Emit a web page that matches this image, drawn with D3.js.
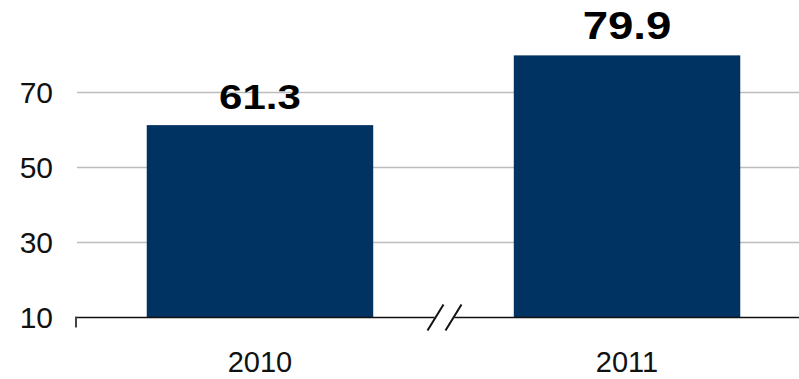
<!DOCTYPE html>
<html>
<head>
<meta charset="utf-8">
<script src="https://cdn.jsdelivr.net/npm/d3@7"></script>
<style>
  html, body { margin: 0; padding: 0; background: #fff; }
  svg { display: block; font-family: "Liberation Sans", Arial, sans-serif; }
</style>
</head>
<body>
<svg id="chart" width="799" height="379"></svg>
<script>
// Chart data
const years = ["2010", "2011"];
const values = [61.3, 79.9];
const yTicks = [10, 30, 50, 70];

// Label styling (font size per value label)
const valueFontSizes = [35, 38];

const W = 799, H = 379;
const svg = d3.select("#chart");

const x = d3.scaleBand()
  .domain(years)
  .range([77, 810])
  .paddingInner(0.383)
  .paddingOuter(0.19);

const y = d3.scaleLinear()
  .domain([10, 70])
  .range([317.5, 92.5]);

// Horizontal gridlines (above the baseline)
svg.append("g")
  .selectAll("line")
  .data(yTicks.filter(t => t > 10))
  .join("line")
  .attr("x1", 77).attr("x2", W)
  .attr("y1", d => y(d)).attr("y2", d => y(d))
  .attr("stroke", "#bdbdbd")
  .attr("stroke-width", 1.5);

// Y tick labels
svg.append("g")
  .selectAll("text")
  .data(yTicks)
  .join("text")
  .attr("x", 53)
  .attr("y", d => y(d))
  .attr("dy", "0.35em")
  .attr("text-anchor", "end")
  .attr("font-size", 30)
  .attr("fill", "#111")
  .text(d => d);

// Bars
svg.append("g")
  .selectAll("rect")
  .data(values)
  .join("rect")
  .attr("x", (d, i) => x(years[i]))
  .attr("width", x.bandwidth())
  .attr("y", d => y(d))
  .attr("height", d => y(10) - y(d))
  .attr("fill", "#003262");

// Baseline with an axis-break mark between the bars
const base = y(10);
const bx = (x(years[0]) + x.bandwidth() + x(years[1])) / 2 - 2;
const axis = svg.append("g").attr("stroke", "#111").attr("fill", "none");
axis.append("line").attr("x1", 77).attr("x2", bx - 7).attr("y1", base).attr("y2", base).attr("stroke-width", 1.3);
axis.append("line").attr("x1", bx + 13).attr("x2", W).attr("y1", base).attr("y2", base).attr("stroke-width", 1.3);
axis.append("line").attr("x1", 76).attr("x2", 76).attr("y1", base - 1).attr("y2", base + 10)
  .attr("stroke", "#444").attr("stroke-width", 2);
[bx - 6, bx + 12].forEach(cx => {
  axis.append("line")
    .attr("x1", cx - 8).attr("y1", base + 13)
    .attr("x2", cx + 8).attr("y2", base - 13)
    .attr("stroke-width", 2);
});

// X category labels
svg.append("g")
  .selectAll("text")
  .data(years)
  .join("text")
  .attr("x", d => x(d) + x.bandwidth() / 2)
  .attr("y", 372)
  .attr("text-anchor", "middle")
  .attr("font-size", 29)
  .attr("fill", "#111")
  .text(d => d);

// Value labels above bars
svg.append("g")
  .selectAll("text")
  .data(values)
  .join("text")
  .attr("transform", (d, i) => `translate(${x(years[i]) + x.bandwidth() / 2},${y(d) - 16}) scale(1.2,1)`)
  .attr("text-anchor", "middle")
  .attr("font-size", (d, i) => valueFontSizes[i])
  .attr("font-weight", "bold")
  .attr("fill", "#000")
  .text(d => d.toFixed(1));
</script>
</body>
</html>
